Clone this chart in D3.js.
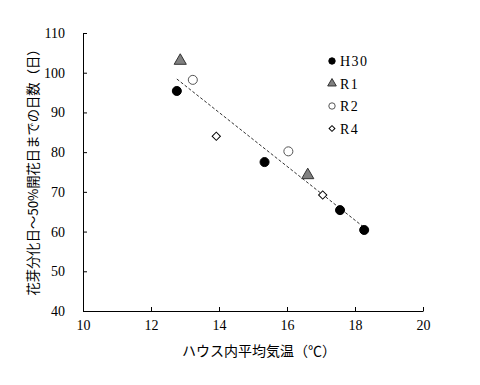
<!DOCTYPE html>
<html lang="ja">
<head>
<meta charset="UTF-8">
<title>ハウス内平均気温と開花日数</title>
<script src="https://d3js.org/d3.v7.min.js"></script>
<style>
    body { margin: 0; background: #fff; }
    .tick text { font-family: "Liberation Serif", serif; font-size: 14px; fill: #000; }
    .title { font-family: "Noto Sans CJK JP", sans-serif; font-size: 14px; fill: #000; }
    .legend text { font-family: "Liberation Serif", serif; font-size: 14px; fill: #000; }
</style>
</head>
<body>
<div id="chart"></div>
<script>
    // series values: [temperature, days]
    const seriesNames = ["H30", "R1", "R2", "R4"];
    const h30 = [[12.76, 95.4], [15.34, 77.5], [17.56, 65.4], [18.27, 60.4]];
    const r1 = [[12.86, 103.0], [16.61, 74.2]];
    const r2 = [[13.23, 98.2], [16.04, 80.2]];
    const r4 = [[13.92, 84.0], [17.05, 69.2]];
    const xTicks = [10, 12, 14, 16, 18, 20];
    const yTicks = [40, 50, 60, 70, 80, 90, 100, 110];

    const width = 480, height = 385;
    const margin = {top: 33, right: 57, bottom: 74, left: 83};

    const svg = d3.select("#chart").append("svg")
        .attr("width", width)
        .attr("height", height);

    const x = d3.scaleLinear().domain([10, 20]).range([margin.left, width - margin.right]);
    const y = d3.scaleLinear().domain([40, 110]).range([height - margin.bottom, margin.top]);

    // axes, ticks point inward like the original
    const xAxis = svg.append("g")
        .attr("transform", `translate(0,${y(40)})`)
        .call(d3.axisBottom(x).tickValues(xTicks).tickSizeInner(-4).tickSizeOuter(0).tickPadding(9));
    const yAxis = svg.append("g")
        .attr("transform", `translate(${x(10)},0)`)
        .call(d3.axisLeft(y).tickValues(yTicks).tickSizeInner(-4).tickSizeOuter(0).tickPadding(18));
    [xAxis, yAxis].forEach(a => {
        a.select(".domain").attr("stroke", "#000");
        a.selectAll(".tick line").attr("stroke", "#000");
    });

    // trend line (least squares over all points)
    const all = h30.concat(r1, r2, r4);
    const mx = d3.mean(all, d => d[0]), my = d3.mean(all, d => d[1]);
    const slope = d3.sum(all, d => (d[0] - mx) * (d[1] - my)) / d3.sum(all, d => (d[0] - mx) ** 2);
    const [x0, x1] = d3.extent(all, d => d[0]);
    const fit = t => my + slope * (t - mx);
    svg.append("line")
        .attr("x1", x(x0)).attr("y1", y(fit(x0)))
        .attr("x2", x(x1)).attr("y2", y(fit(x1)))
        .attr("stroke", "#333")
        .attr("stroke-width", 1)
        .attr("stroke-dasharray", "3,2");

    // diamond drawn as a square turned 45 degrees, so it is as wide as tall
    const styles = [
        {shape: d3.symbolCircle, size: 64, rot: 0, fill: "#000", stroke: "#000"},
        {shape: d3.symbolTriangle, size: 64, rot: 0, fill: "#808080", stroke: "#333"},
        {shape: d3.symbolCircle, size: 64, rot: 0, fill: "#fff", stroke: "#555"},
        {shape: d3.symbolSquare, size: 34, rot: 45, fill: "#fff", stroke: "#000"}
    ];
    const series = [h30, r1, r2, r4];

    series.forEach((pts, i) => {
        const s = styles[i];
        svg.append("g").selectAll("path")
            .data(pts).enter()
            .append("path")
            .attr("transform", d => `translate(${x(d[0])},${y(d[1])}) rotate(${s.rot})`)
            .attr("d", d3.symbol().type(s.shape).size(s.size))
            .attr("fill", s.fill)
            .attr("stroke", s.stroke)
            .attr("stroke-width", 1);
    });

    // legend
    const legend = svg.append("g").attr("class", "legend");
    seriesNames.forEach((name, i) => {
        const s = styles[i];
        const g = legend.append("g").attr("transform", `translate(332,${61 + i * 22.5})`);
        g.append("path")
            .attr("transform", `rotate(${s.rot})`)
            .attr("d", d3.symbol().type(s.shape).size(s.size * 0.5))
            .attr("fill", s.fill)
            .attr("stroke", s.stroke);
        g.append("text")
            .attr("x", 8)
            .attr("dy", "0.36em")
            .attr("letter-spacing", "1.5px")
            .text(name);
    });

    // axis titles
    svg.append("text")
        .attr("class", "title")
        .attr("x", 259)
        .attr("y", 356)
        .attr("text-anchor", "middle")
        .text("ハウス内平均気温（℃）");
    svg.append("text")
        .attr("class", "title")
        .attr("transform", "translate(38,169) rotate(-90)")
        .attr("text-anchor", "middle")
        .style("font-size", "13.3px")
        .text("花芽分化日～50%開花日までの日数（日）");
</script>
</body>
</html>
